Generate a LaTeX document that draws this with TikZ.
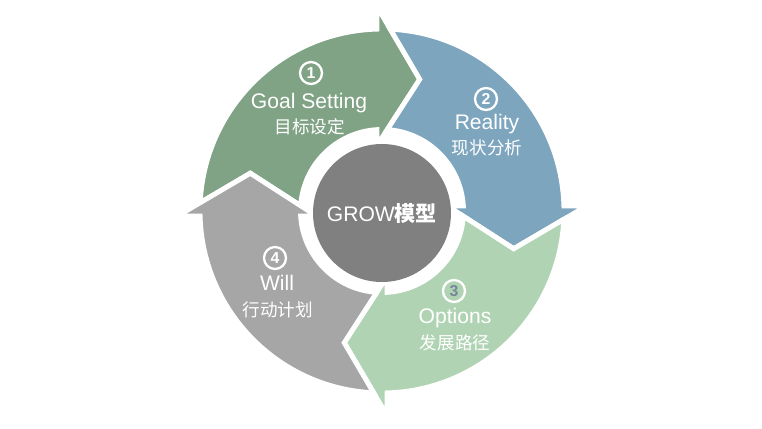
\documentclass[tikz,border=0pt]{standalone}
\usepackage{fontspec}
\setmainfont{Liberation Sans}
\newfontfamily\cjk{Noto Sans CJK SC}
\usetikzlibrary{positioning}
\definecolor{goalgreen}{RGB}{128,163,134}
\definecolor{realblue}{RGB}{125,165,190}
\definecolor{optgreen}{RGB}{176,212,179}
\definecolor{willgray}{RGB}{166,166,166}
\definecolor{coregray}{RGB}{128,128,128}
\definecolor{numblue}{RGB}{118,134,154}
\tikzset{
  numring/.style={circle, draw=white, line width=1.3pt, minimum size=0.44cm,
    inner sep=0pt, font=\bfseries\fontsize{9}{9}\selectfont, text=white},
  entext/.style={font=\fontsize{12}{14}\selectfont, text=white, inner sep=1pt},
  cntext/.style={font=\cjk\fontsize{10}{12}\selectfont, text=white, inner sep=1pt}
}

\begin{document}
\begin{tikzpicture}
  \useasboundingbox (-7.64,-4.34) rectangle (7.60,4.22);
  % Cycle arrows
  \foreach \rot/\col in {90/goalgreen, 0/realblue, -90/optgreen, 180/willgray}
    \fill[\col, draw=white, line width=2.8pt, rotate=\rot]
      (87.38:3.64) arc[start angle=87.38, end angle=1.57, radius=3.64]
      -- (4.09,0.1) -- (-16:2.74) -- (1.31,0.1) -- (3.52:1.63)
      arc[start angle=3.52, end angle=86.32, radius=1.63]
      -- (74:2.74) -- cycle;
  % Centre
  \node[circle, fill=coregray, minimum size=2.76cm, inner sep=0pt,
        font=\fontsize{12}{14}\selectfont, text=white] (core) at (0,-0.04)
        {GROW{\cjk\bfseries 模型}};
  % Goal Setting
  \node[numring] (num1) at (-1.42,2.76) {1};
  \node[entext] (goal) at (-1.46,2.16) {Goal Setting};
  \node[cntext] (goalcn) at (-1.44,1.68) {目标设定};
  % Reality
  \node[numring] (num2) at (2.08,2.24) {2};
  \node[entext] (real) at (2.10,1.74) {Reality};
  \node[cntext] (realcn) at (2.10,1.26) {现状分析};
  % Options
  \node[numring, text=numblue] (num3) at (1.44,-1.60) {3};
  \node[entext] (opt) at (1.46,-2.14) {Options};
  \node[cntext] (optcn) at (1.46,-2.64) {发展路径};
  % Will
  \node[numring] (num4) at (-2.14,-0.94) {4};
  \node[entext] (will) at (-2.10,-1.44) {Will};
  \node[cntext] (willcn) at (-2.08,-1.98) {行动计划};
\end{tikzpicture}
\end{document}
